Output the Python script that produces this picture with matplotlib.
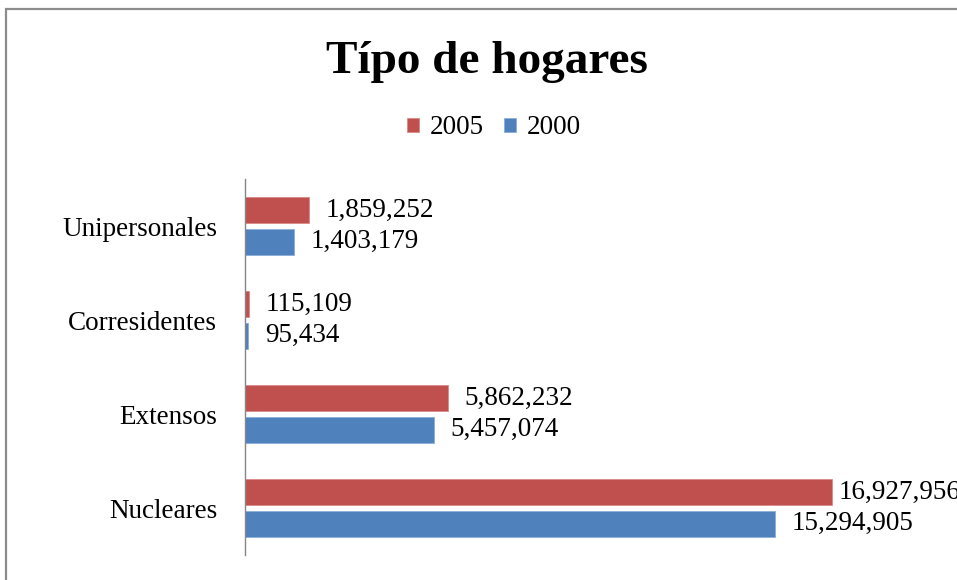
import matplotlib.pyplot as plt
from matplotlib.patches import Rectangle
import numpy as np

# Data (bottom to top)
categories = ['Nucleares', 'Extensos', 'Corresidentes', 'Unipersonales']
hogares_2005 = [16927956, 5862232, 115109, 1859252]
hogares_2000 = [15294905, 5457074, 95434, 1403179]

red = '#C0504D'
blue = '#4F81BD'

plt.rcParams['font.family'] = ['Liberation Serif', 'DejaVu Serif']

W, H = 957, 580
fig = plt.figure(figsize=(W / 100, H / 100), dpi=100)

# gray outer frame (cut off at right and bottom)
fig.patches.append(Rectangle((5.5 / W, -0.1), 1.2, (H - 9.5) / H + 0.1,
                             transform=fig.transFigure, fill=False,
                             edgecolor='#8c8c8c', linewidth=1.6))

ax = fig.add_axes([245 / W, 25 / H, (W - 245) / W, 376 / H])

y = np.arange(len(categories))
off = 0.168
h = 0.275
b05 = ax.barh(y + off, hogares_2005, height=h, color=red, edgecolor='#d98a88', linewidth=0.6, label='2005')
b00 = ax.barh(y - off, hogares_2000, height=h, color=blue, edgecolor='#8aaedb', linewidth=0.6, label='2000')

labels05 = ax.bar_label(b05, labels=[f'{v:,}' for v in hogares_2005], padding=12,
                        fontsize=19.5, clip_on=False)
ax.bar_label(b00, labels=[f'{v:,}' for v in hogares_2000], padding=12,
             fontsize=19.5, clip_on=False)
# the long label sits closer to its bar, as in the original
labels05[0].xyann = (5, 0)

ax.set_xlim(0, (W - 245) / 34.66 * 1e6)
ax.set_ylim(-0.5, len(categories) - 0.5)
ax.set_yticks(y)
ax.set_yticklabels(categories, fontsize=19.5)
ax.tick_params(axis='y', length=0, pad=20)
ax.set_xticks([])
for s in ['top', 'right', 'bottom']:
    ax.spines[s].set_visible(False)
ax.spines['left'].set_color('#868686')
ax.spines['left'].set_linewidth(1.0)

fig.text(487 / W, 1 - 62 / H, 'Típo de hogares', ha='center', va='center',
         fontsize=34, fontweight='bold')

fig.legend(handles=[b05, b00], loc='center', bbox_to_anchor=(494 / W, 1 - 128 / H),
           ncol=2, frameon=False, fontsize=19.5, handlelength=0.45, handleheight=0.45,
           handletextpad=0.38, columnspacing=0.76, borderpad=0)

fig.savefig('out.png', dpi=100)
